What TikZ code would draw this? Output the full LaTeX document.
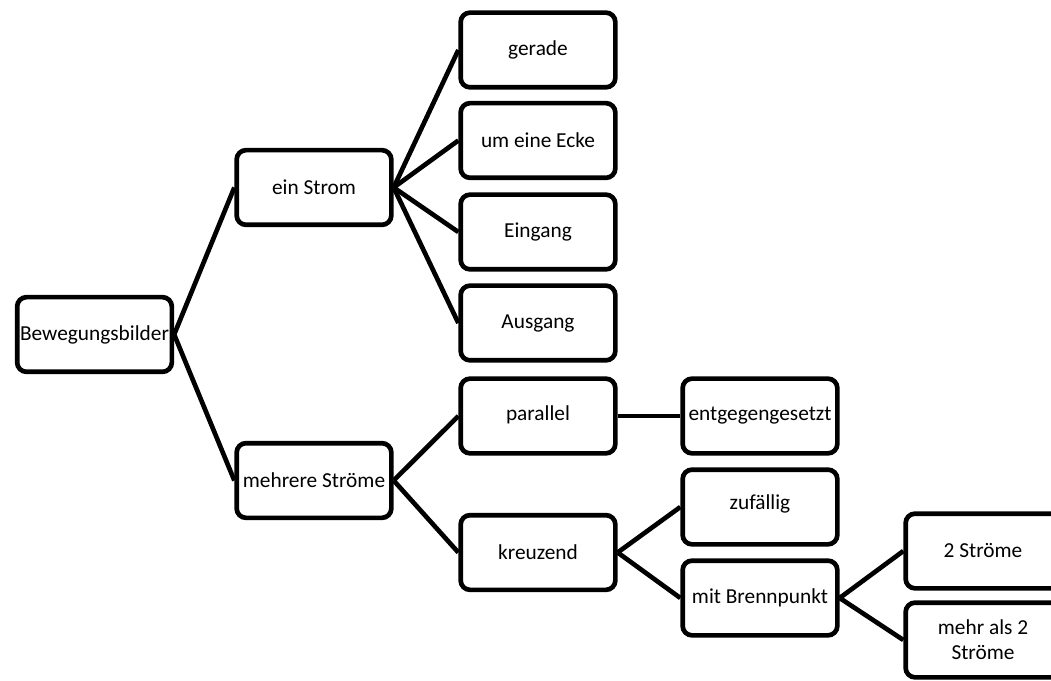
\documentclass[tikz,border=0pt]{standalone}
\usepackage{fontspec}
\setmainfont{Carlito}
\begin{document}
\begin{tikzpicture}[x=0.75pt,y=-0.75pt,
  box/.style={draw=black,line width=3.5pt,rounded corners=7pt,minimum width=116pt,minimum height=56pt,inner sep=2pt,align=center,font=\fontsize{16}{18.5}\selectfont,fill=white},
  link/.style={line width=3.5pt}]
\useasboundingbox (0,0) rectangle (1051,681);
\clip (0,0) rectangle (1051,681);
\fill[white] (0,0) rectangle (1051,681);
\node[box] (root) at (94.5,334.5) {Bewegungsbilder};
\node[box] (ein) at (314,187.5) {ein Strom};
\node[box] (mehr) at (314,480.5) {mehrere Ströme};
\node[box] (ger) at (538,50) {gerade};
\node[box] (ecke) at (538,140.5) {um eine Ecke};
\node[box] (ein2) at (538,232) {Eingang};
\node[box] (aus) at (538,323) {Ausgang};
\node[box] (par) at (538,416) {\raisebox{4pt}{parallel}};
\node[box] (kreuz) at (538,552.5) {kreuzend};
\node[box] (entg) at (760,416) {entgegengesetzt};
\node[box] (zuf) at (760,507) {\raisebox{7pt}{zufällig}};
\node[box] (brenn) at (760,598) {mit Brennpunkt};
\node[box] (zwei) at (983,551) {2 Ströme};
\node[box] (mehrals) at (983,640) {mehr als 2\\Ströme};
\draw[link] (root.east) -- (ein.west);
\draw[link] (root.east) -- (mehr.west);
\draw[link] (ein.east) -- (ger.west);
\draw[link] (ein.east) -- (ecke.west);
\draw[link] (ein.east) -- (ein2.west);
\draw[link] (ein.east) -- (aus.west);
\draw[link] (mehr.east) -- (par.west);
\draw[link] (mehr.east) -- (kreuz.west);
\draw[link] (par.east) -- (entg.west);
\draw[link] (kreuz.east) -- (zuf.west);
\draw[link] (kreuz.east) -- (brenn.west);
\draw[link] (brenn.east) -- (zwei.west);
\draw[link] (brenn.east) -- (mehrals.west);
\end{tikzpicture}
\end{document}
